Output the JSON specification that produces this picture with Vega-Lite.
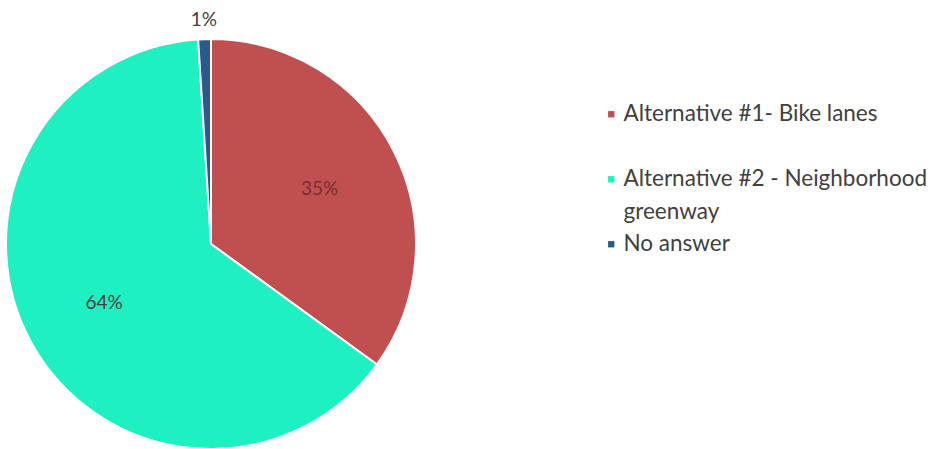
{
  "$schema": "https://vega.github.io/schema/vega-lite/v6.json",
  "width": 410,
  "height": 410,
  "autosize": {"type": "none"},
  "padding": {"left": 6, "top": 39, "right": 519, "bottom": 0},
  "background": "white",
  "config": {"view": {"stroke": null}, "font": "Lato", "style": {"guide-label": {"lineHeight": 33}}},
  "data": {
    "values": [
      {"answer": "Alternative #1- Bike lanes", "pct": 35, "label": "35%", "order": 1},
      {"answer": "Alternative #2 - Neighborhood greenway", "pct": 64, "label": "64%", "order": 2},
      {"answer": "No answer", "pct": 1, "label": "1%", "order": 3}
    ]
  },
  "encoding": {
    "theta": {"field": "pct", "type": "quantitative", "stack": true},
    "order": {"field": "order", "type": "quantitative"}
  },
  "layer": [
    {
      "mark": {"type": "arc", "stroke": "white", "strokeWidth": 2},
      "encoding": {
        "color": {
          "field": "answer",
          "type": "nominal",
          "sort": ["Alternative #1- Bike lanes", "Alternative #2 - Neighborhood greenway", "No answer"],
          "scale": {
            "domain": ["Alternative #1- Bike lanes", "Alternative #2 - Neighborhood greenway", "No answer"],
            "range": ["#C0504F", "#1EF0C2", "#285A8C"]
          },
          "legend": {
            "orient": "none",
            "legendX": 594,
            "legendY": 64,
            "title": null,
            "columns": 1,
            "gridAlign": "all",
            "symbolType": "square",
            "symbolSize": 40,
            "symbolStrokeWidth": 0,
            "labelFont": "Lato",
            "labelFontSize": 22.5,
            "labelColor": "#404040",
            "labelOffset": 1,
            "labelLimit": 400,
            "rowPadding": 9,
            "labelExpr": "datum.label == 'Alternative #2 - Neighborhood greenway' ? ['Alternative #2 - Neighborhood', 'greenway'] : datum.label"
          }
        }
      }
    },
    {
      "mark": {"type": "text", "radius": 122, "fontSize": 19, "font": "Lato"},
      "encoding": {
        "text": {"condition": {"test": "datum.answer == 'No answer'", "value": ""}, "field": "label"},
        "color": {
          "condition": {"test": "datum.answer == 'Alternative #1- Bike lanes'", "value": "#7a2e30"},
          "value": "#404040"
        }
      }
    },
    {
      "mark": {"type": "text", "radius": 224, "fontSize": 19, "font": "Lato"},
      "encoding": {
        "text": {"condition": {"test": "datum.answer != 'No answer'", "value": ""}, "field": "label"},
        "color": {"value": "#404040"}
      }
    }
  ]
}
